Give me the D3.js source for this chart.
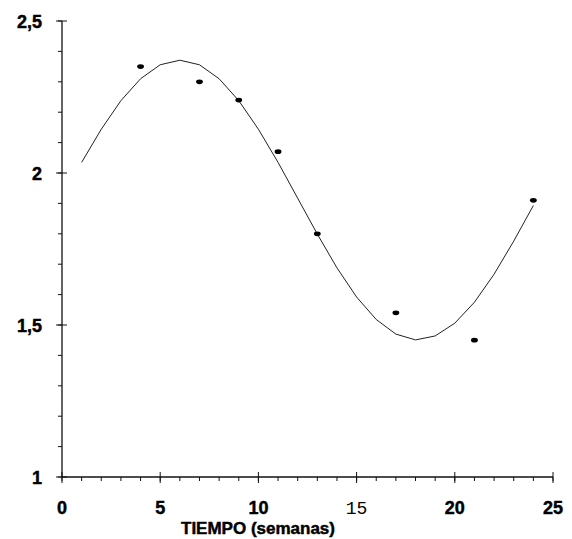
<!DOCTYPE html>
<html>
<head>
<meta charset="utf-8">
<script src="https://cdn.jsdelivr.net/npm/d3@7"></script>
<style>
  html, body { margin: 0; padding: 0; background: #fff; }
  svg { display: block; }
  .lbl { font-family: "Liberation Sans", Arial, sans-serif; font-weight: bold; fill: #000; stroke: #000; stroke-width: 0.45; }
</style>
</head>
<body>
<svg id="chart" width="572" height="539"></svg>
<script>
// Observed values (semana, valor)
const obsWeeks = [4, 7, 9, 11, 13, 17, 21, 24];
const obsValues = [2.35, 2.30, 2.24, 2.07, 1.80, 1.54, 1.45, 1.91];

// Fitted curve, sampled weekly
const fitWeeks = [1, 2, 3, 4, 5, 6, 7, 8, 9, 10, 11, 12, 13, 14, 15, 16, 17, 18, 19, 20, 21, 22, 23, 24];
const fitValues = [2.035, 2.144, 2.238, 2.310, 2.356, 2.371, 2.356, 2.310, 2.238, 2.144, 2.035, 1.917,
                   1.799, 1.688, 1.592, 1.518, 1.470, 1.451, 1.464, 1.506, 1.575, 1.667, 1.776, 1.893];

// Axis ticks
const xMajor = [0, 5, 10, 15, 20, 25];
const xMajorLabels = ["0", "5", "10", "15", "20", "25"];
const xMinor = d3.range(0, 26, 1);
const yMajor = [1, 1.5, 2, 2.5];
const yMajorLabels = ["1", "1,5", "2", "2,5"];
const yMinor = d3.range(10, 26, 1).map(d => d / 10);
const xTitle = "TIEMPO (semanas)";

const svg = d3.select("#chart");
const x = d3.scaleLinear().domain([0, 25]).range([62, 553]);
const y = d3.scaleLinear().domain([1, 2.5]).range([477, 21]);

const ink = "#111";

// Axis lines
svg.append("line").attr("x1", x(0)).attr("x2", x(0)).attr("y1", y(2.5)).attr("y2", y(1))
  .attr("stroke", ink).attr("stroke-width", 1.3);
svg.append("line").attr("x1", x(0)).attr("x2", x(25)).attr("y1", y(1)).attr("y2", y(1))
  .attr("stroke", ink).attr("stroke-width", 1.3);

// Y ticks: minor on the left, major crossing the axis
svg.append("g").selectAll("line").data(yMinor).join("line")
  .attr("x1", x(0) - 4).attr("x2", x(0)).attr("y1", d => y(d)).attr("y2", d => y(d))
  .attr("stroke", ink).attr("stroke-width", 1);
svg.append("g").selectAll("line").data(yMajor).join("line")
  .attr("x1", x(0) - 6).attr("x2", x(0) + 5).attr("y1", d => y(d)).attr("y2", d => y(d))
  .attr("stroke", ink).attr("stroke-width", 1);

// X ticks: minor below, major crossing the axis
svg.append("g").selectAll("line").data(xMinor).join("line")
  .attr("x1", d => x(d)).attr("x2", d => x(d)).attr("y1", y(1)).attr("y2", y(1) + 4)
  .attr("stroke", ink).attr("stroke-width", 1);
svg.append("g").selectAll("line").data(xMajor).join("line")
  .attr("x1", d => x(d)).attr("x2", d => x(d)).attr("y1", y(1) - 5).attr("y2", y(1) + 6)
  .attr("stroke", ink).attr("stroke-width", 1);

// Y labels
svg.append("g").selectAll("text").data(yMajor).join("text")
  .attr("class", "lbl")
  .attr("x", 42).attr("y", d => y(d) + 6.5)
  .attr("text-anchor", "end")
  .attr("font-size", 18)
  .text((d, i) => yMajorLabels[i]);

// X labels
svg.append("g").selectAll("text").data(xMajor).join("text")
  .attr("class", "lbl")
  .attr("x", d => x(d)).attr("y", 514)
  .attr("text-anchor", "middle")
  .attr("font-size", 18)
  .style("font-weight", d => d === 15 ? "normal" : "bold")
  .style("stroke-width", d => d === 15 ? 0 : null)
  .style("font-family", d => d === 15 ? "'Liberation Mono', monospace" : null)
  .text((d, i) => xMajorLabels[i]);

// X title
svg.append("text").attr("class", "lbl")
  .attr("x", 258).attr("y", 534)
  .attr("text-anchor", "middle")
  .attr("font-size", 17)
  .text(xTitle);

// Fitted curve
const line = d3.line().x(d => x(d[0])).y(d => y(d[1]));
svg.append("path")
  .datum(fitWeeks.map((w, i) => [w, fitValues[i]]))
  .attr("d", line)
  .attr("fill", "none").attr("stroke", "#222").attr("stroke-width", 1);

// Observed points
svg.append("g").selectAll("ellipse").data(obsWeeks).join("ellipse")
  .attr("cx", d => x(d)).attr("cy", (d, i) => y(obsValues[i]))
  .attr("rx", 3.4).attr("ry", 2.4)
  .attr("fill", "#000");
</script>
</body>
</html>
